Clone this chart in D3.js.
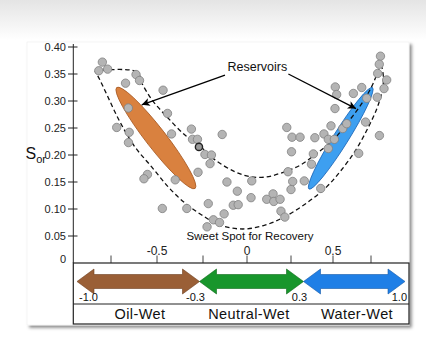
<!DOCTYPE html>
<html><head><meta charset="utf-8">
<script src="https://cdn.jsdelivr.net/npm/d3@7"></script>
<style>
html,body{margin:0;padding:0;background:#fff;}
svg{display:block;font-family:"Liberation Sans",Arial,Helvetica,sans-serif;}
</style></head><body>
<svg id="chart" width="426" height="346"></svg>
<script>
// ---------- data ----------
const yTicks = [0, 0.05, 0.10, 0.15, 0.20, 0.25, 0.30, 0.35, 0.40];
const yTickLabels = ["0", "0.05", "0.10", "0.15", "0.20", "0.25", "0.30", "0.35", "0.40"];
const xTicks = [-0.75, -0.5, -0.25, 0, 0.25, 0.5, 0.75];
const xLabelValues = [-0.5, 0, 0.5];
const xLabelTexts = ["-0.5", "0", "0.5"];

// wettability index (x) and residual oil saturation Sor (y)
const wettIndex = [-0.796,-0.815,-0.768,-0.614,-0.595,-0.671,-0.467,-0.656,-0.443,-0.719,
  -0.651,-0.655,-0.421,-0.313,-0.307,-0.280,-0.141,-0.239,-0.202,-0.210,
  -0.277,-0.552,-0.571,-0.401,-0.471,-0.338,-0.220,-0.114,-0.055,-0.078,
  -0.050,-0.130,-0.191,-0.156,-0.227,0.027,0.023,0.112,0.148,0.152,
  0.188,0.193,0.215,0.226,0.256,0.304,0.253,0.233,0.260,0.250,
  0.329,0.392,0.383,0.372,0.427,0.446,0.488,0.472,0.472,0.509,
  0.564,0.590,0.513,0.515,0.524,0.634,0.689,0.722,0.714,0.669,
  0.814,0.806,0.795,0.856,0.838,0.792,0.807];
const sor = [0.372,0.356,0.359,0.349,0.338,0.333,0.320,0.287,0.277,0.251,
  0.242,0.223,0.239,0.248,0.229,0.229,0.238,0.201,0.200,0.184,
  0.168,0.164,0.156,0.154,0.101,0.101,0.110,0.150,0.133,0.107,
  0.108,0.091,0.080,0.075,0.067,0.152,0.121,0.118,0.128,0.114,
  0.118,0.096,0.085,0.251,0.233,0.233,0.206,0.169,0.151,0.136,
  0.152,0.232,0.202,0.183,0.138,0.239,0.254,0.229,0.212,0.229,
  0.249,0.258,0.286,0.326,0.312,0.314,0.325,0.305,0.261,0.203,
  0.383,0.368,0.351,0.339,0.323,0.307,0.236];
const highlightIndex = [-0.272];
const highlightSor = [0.215];

// dashed envelope (wettability index, Sor)
const envX = [-0.835,-0.609,-0.582,-0.527,-0.447,-0.348,-0.277,-0.182,-0.068,0.017,
  0.102,0.188,0.304,0.403,0.502,0.599,0.691,0.757,0.797,0.818,
  0.834,0.824,0.791,0.730,0.645,0.546,0.462,0.343,0.216,0.102,
  -0.023,-0.153,-0.257,-0.348,-0.439,-0.529,-0.620,-0.701,-0.771,-0.809,-0.835];
const envY = [0.356,0.354,0.333,0.302,0.271,0.237,0.220,0.191,0.169,0.160,
  0.159,0.166,0.181,0.203,0.228,0.261,0.296,0.328,0.354,0.365,
  0.343,0.317,0.287,0.250,0.207,0.169,0.141,0.111,0.086,0.070,
  0.063,0.070,0.089,0.111,0.141,0.178,0.215,0.261,0.311,0.339,0.356];

// reservoir ellipses: end points (index, Sor)
const resX1 = [-0.719, 0.760];
const resY1 = [0.325, 0.325];
const resX2 = [-0.293, 0.357];
const resY2 = [0.138, 0.137];

// annotations
const annoText = ["Reservoirs", "Sweet Spot for Recovery"];
const annoX = [0.059, 0.017];
const annoY = [0.356, 0.043];
const arrowFromX = [-0.125, 0.235];
const arrowFromY = [0.348, 0.350];
const arrowToX = [-0.583, 0.651];
const arrowToY = [0.293, 0.286];

// wettability classes
const wettClasses = ["Oil-Wet", "Neutral-Wet", "Water-Wet"];
const wettStart = [-1.0, -0.3, 0.3];
const wettEnd = [-0.3, 0.3, 1.0];
const boundValues = [-1.0, -0.3, 0.3, 1.0];
const boundLabels = ["-1.0", "-0.3", "0.3", "1.0"];

// ---------- drawing ----------
const svg = d3.select("#chart");
const defs = svg.append("defs");
const grad = defs.append("linearGradient").attr("id","topg").attr("x1",0).attr("y1",0).attr("x2",0).attr("y2",1);
grad.append("stop").attr("offset","0%").attr("stop-color","#e4e4e4");
grad.append("stop").attr("offset","100%").attr("stop-color","#ffffff");
const sh = defs.append("filter").attr("id","shadow").attr("x","-5%").attr("y","-5%").attr("width","115%").attr("height","115%");
sh.append("feDropShadow").attr("dx",2.5).attr("dy",2.5).attr("stdDeviation",1.6)
  .attr("flood-color","#000").attr("flood-opacity",0.45);
defs.append("marker").attr("id","ah").attr("viewBox","0 0 10 10").attr("refX",10).attr("refY",5)
  .attr("markerWidth",11).attr("markerHeight",8).attr("markerUnits","userSpaceOnUse").attr("orient","auto")
  .append("path").attr("d","M0,0 L10,5 L0,10 L2.5,5 Z").attr("fill","#000");

svg.append("rect").attr("x",0).attr("y",0).attr("width",426).attr("height",40).attr("fill","url(#topg)");
svg.append("rect").attr("x",27).attr("y",42).attr("width",382).attr("height",283)
  .attr("fill","#fff").attr("stroke","#eee").attr("stroke-width",0.6).attr("filter","url(#shadow)");

const x = d3.scaleLinear().domain([-1,-0.75,-0.5,-0.25,0,0.25,0.5,0.75,1])
  .range([64,111,157,203,247,291,333,371,408]);
const y = d3.scaleLinear().domain([0,0.4]).range([263,47]);
const xw = d3.scaleLinear().domain([-1,-0.3,0.3,1]).range([77,199.5,303.5,405]);

// y axis
const axisX = 73.3;
svg.append("line").attr("x1",axisX).attr("x2",axisX).attr("y1",y(0.4)-3).attr("y2",y(0))
  .attr("stroke","#222").attr("stroke-width",1);
yTicks.forEach((t,i)=>{
  if (i>0) svg.append("line").attr("x1",68).attr("x2",77.5).attr("y1",y(t)).attr("y2",y(t))
    .attr("stroke","#222").attr("stroke-width",1);
  svg.append("text").attr("x",66).attr("y",i===0 ? y(t)-4 : y(t)).attr("dy","0.36em")
    .attr("text-anchor","end").attr("font-size",11).attr("fill","#222").text(yTickLabels[i]);
});
const ylab = svg.append("text").attr("x",25.5).attr("y",158.5).attr("fill","#111");
ylab.append("tspan").attr("font-size",16).text("S");
ylab.append("tspan").attr("font-size",11).attr("dy",4).text("or");

// x axis ticks & labels
xTicks.forEach(t=>{
  svg.append("line").attr("x1",x(t)).attr("x2",x(t)).attr("y1",255.5).attr("y2",263)
    .attr("stroke","#444").attr("stroke-width",1);
});
xLabelValues.forEach((v,i)=>{
  svg.append("text").attr("x",x(v)).attr("y",254.5).attr("text-anchor","middle")
    .attr("font-size",12).attr("fill","#222").text(xLabelTexts[i]);
});

// reservoir ellipses
const resFill = ["#d9813f","#3d9ff0"];
const resStroke = ["#a85a24","#1e68b8"];
const resHalfWidth = [10, 7.5];
resX1.forEach((_,i)=>{
  const x1 = x(resX1[i]), y1 = y(resY1[i]), x2 = x(resX2[i]), y2 = y(resY2[i]);
  const cx = (x1+x2)/2, cy = (y1+y2)/2;
  const len = Math.hypot(x2-x1, y2-y1)/2;
  const ang = Math.atan2(y2-y1, x2-x1)*180/Math.PI;
  svg.append("ellipse").attr("cx",0).attr("cy",0).attr("rx",len).attr("ry",resHalfWidth[i])
    .attr("transform",`translate(${cx},${cy}) rotate(${ang})`)
    .attr("fill",resFill[i]).attr("stroke",resStroke[i]).attr("stroke-width",0.8);
});

// envelope
const env = envX.map((v,i)=>[x(v), y(envY[i])]);
svg.append("path").attr("d", d3.line().curve(d3.curveCatmullRom.alpha(0.5))(env))
  .attr("fill","none").attr("stroke","#111").attr("stroke-width",1.3).attr("stroke-dasharray","4.5,3");

// points
const pts = wettIndex.map((v,i)=>({x:v, y:sor[i]}));
svg.append("g").selectAll("circle").data(pts).join("circle")
  .attr("cx",d=>x(d.x)).attr("cy",d=>y(d.y)).attr("r",4.2)
  .attr("fill","#b4b4b4").attr("stroke","#808080").attr("stroke-width",0.8);
highlightIndex.forEach((v,i)=>{
  svg.append("circle").attr("cx",x(v)).attr("cy",y(highlightSor[i])).attr("r",3.6)
    .attr("fill","#9a9a9a").attr("stroke","#222").attr("stroke-width",1.4);
});

// annotation arrows and text
arrowFromX.forEach((_,i)=>{
  svg.append("line").attr("x1",x(arrowFromX[i])).attr("y1",y(arrowFromY[i]))
    .attr("x2",x(arrowToX[i])).attr("y2",y(arrowToY[i]))
    .attr("stroke","#000").attr("stroke-width",1.3).attr("marker-end","url(#ah)");
});
svg.append("text").attr("x",x(annoX[0])).attr("y",y(annoY[0])).attr("text-anchor","middle")
  .attr("font-size",12.5).attr("fill","#111").text(annoText[0]);
svg.append("text").attr("x",x(annoX[1])).attr("y",y(annoY[1])).attr("text-anchor","middle")
  .attr("font-size",11.5).attr("fill","#111").text(annoText[1]);

// wettability box
svg.append("rect").attr("x",73.3).attr("y",263).attr("width",335.7).attr("height",61)
  .attr("fill","none").attr("stroke","#222").attr("stroke-width",1.2);
svg.append("line").attr("x1",73.3).attr("x2",409).attr("y1",304).attr("y2",304)
  .attr("stroke","#222").attr("stroke-width",1);

const wettFill = ["#9a5f36","#18962c","#1f7fe6"];
const wettStroke = ["#6e4020","#0d6a1a","#1459a8"];
const yc = 281.5, hl = 17, shw = 7, hh = 12.5;
const labelCenters = [140, 249, 357];
wettClasses.forEach((c,i)=>{
  const x0 = xw(wettStart[i]), x1 = xw(wettEnd[i]);
  const p = [[x0,yc],[x0+hl,yc-hh],[x0+hl,yc-shw],[x1-hl,yc-shw],[x1-hl,yc-hh],[x1,yc],
             [x1-hl,yc+hh],[x1-hl,yc+shw],[x0+hl,yc+shw],[x0+hl,yc+hh]];
  svg.append("polygon").attr("points",p.map(d=>d.join(",")).join(" "))
    .attr("fill",wettFill[i]).attr("stroke",wettStroke[i]).attr("stroke-width",0.6);
  svg.append("text").attr("x",labelCenters[i]).attr("y",318.5).attr("text-anchor","middle")
    .attr("font-size",14.5).attr("letter-spacing",0.4).attr("fill","#111").text(c);
});
boundValues.forEach((v,i)=>{
  const anchor = i===0 ? "start" : (i===3 ? "end" : "middle");
  const dx = i===0 ? 2 : (i===3 ? 2 : -4);
  svg.append("text").attr("x",xw(v)+dx).attr("y",301).attr("text-anchor",anchor)
    .attr("font-size",11).attr("fill","#111").text(boundLabels[i]);
});
</script>
</body></html>
